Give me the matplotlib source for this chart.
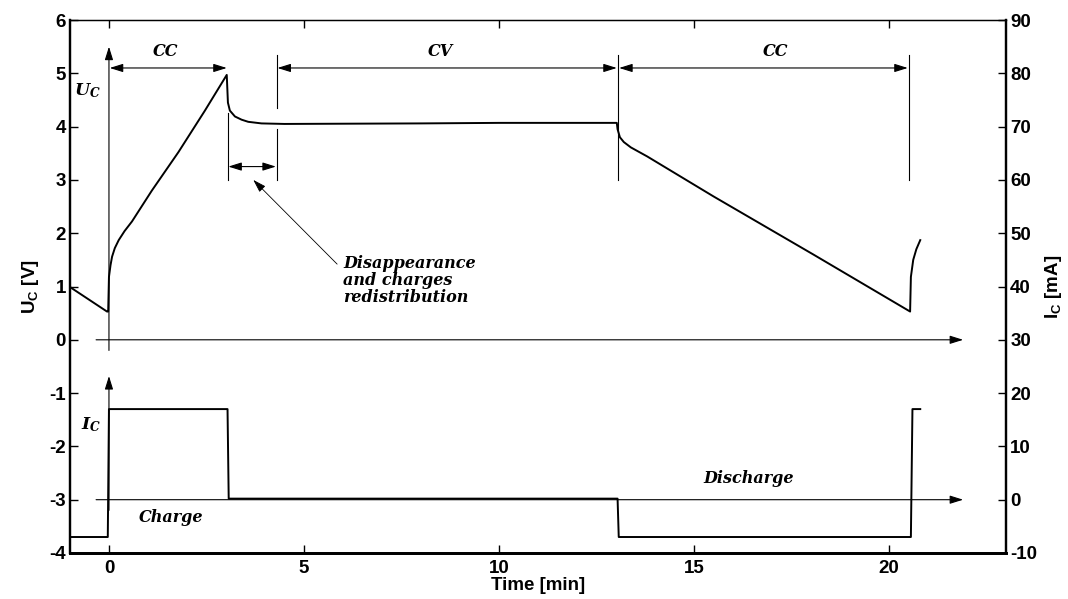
import matplotlib
matplotlib.use("Agg")
import matplotlib.pyplot as plt

# --- data ---
# capacitor voltage U_C [V] (left axis)
u_time = [-1.0, -0.05, -0.02, 0.0, 0.04, 0.08, 0.15, 0.25, 0.4, 0.59, 1.10, 1.78, 2.46, 3.02,
          3.05, 3.1, 3.23, 3.4, 3.57, 3.91, 4.5, 8.0, 10.0, 13.02, 13.04, 13.1, 13.2,
          13.38, 13.8, 15.5, 18.06, 20.54, 20.56, 20.62, 20.7, 20.8]
u_volt = [0.99, 0.53, 0.53, 1.18, 1.4, 1.56, 1.72, 1.87, 2.04, 2.22, 2.8, 3.52, 4.3, 4.97,
          4.45, 4.3, 4.19, 4.13, 4.09, 4.06, 4.05, 4.06, 4.07, 4.07, 3.95, 3.8, 3.71,
          3.61, 3.44, 2.69, 1.6, 0.53, 1.18, 1.5, 1.7, 1.87]

# capacitor current I_C [mA] (right axis)
i_time = [-1.0, -0.03, 0.0, 3.04, 3.07, 13.04, 13.07, 20.56, 20.6, 20.8]
i_ma = [-7.0, -7.0, 17.0, 17.0, 0.2, 0.2, -7.0, -7.0, 17.0, 17.0]

x_ticks = [0, 5, 10, 15, 20]
u_ticks = list(range(-4, 7))
i_ticks = list(range(-10, 91, 10))

plt.rcParams['font.family'] = ['Liberation Sans', 'DejaVu Sans']
plt.rcParams['font.weight'] = 'bold'
plt.rcParams['axes.unicode_minus'] = False
plt.rcParams['mathtext.fontset'] = 'custom'
plt.rcParams['mathtext.rm'] = 'Liberation Sans:bold'
plt.rcParams['mathtext.bf'] = 'Liberation Sans:bold'
plt.rcParams['mathtext.it'] = 'DejaVu Serif:italic:bold'

fig = plt.figure(figsize=(10.68, 5.99), dpi=100)
ax = fig.add_axes([0.0655, 0.0768, 0.8765, 0.8898])
ax2 = ax.twinx()

ax.plot(u_time, u_volt, color='black', lw=1.4)
ax2.plot(i_time, i_ma, color='black', lw=1.4)

ax.set_xlim(-1, 23)
ax.set_ylim(-4, 6)
ax2.set_ylim(-10, 90)
ax.set_xticks(x_ticks)
ax.set_yticks(u_ticks)
ax2.set_yticks(i_ticks)

ax.xaxis.set_ticks_position('both')
ax.tick_params(axis='both', direction='in', length=6, width=1, labelsize=13.5, pad=3)
ax.tick_params(axis='x', pad=5)
ax2.tick_params(axis='y', direction='in', length=6, width=1, labelsize=13.5, pad=3)

for a in (ax, ax2):
    a.spines['left'].set_linewidth(1.6)
    a.spines['right'].set_linewidth(1.6)
    a.spines['bottom'].set_linewidth(2.0)
    a.spines['top'].set_linewidth(0.9)

ax.set_xlabel('Time [min]', fontsize=13.5, fontweight='bold', labelpad=0)
ax.set_ylabel(r'U$_\mathrm{C}$ [V]', fontsize=13.5, fontweight='bold', labelpad=6)
ax2.set_ylabel(r'I$_\mathrm{C}$ [mA]', fontsize=13.5, fontweight='bold', labelpad=4)

# --- annotations (left axis coordinates) ---
thin = dict(color='black', lw=0.8)
one_head = dict(arrowstyle='-|>,head_length=0.8,head_width=0.25', color='black',
                lw=0.8, shrinkA=0, shrinkB=0)
two_head = dict(arrowstyle='<|-|>,head_length=0.8,head_width=0.25', color='black',
                lw=0.8, shrinkA=0, shrinkB=0)

# axis arrows
ax.annotate('', xy=(0, 5.5), xytext=(0, -0.2), arrowprops=one_head)
ax.annotate('', xy=(21.9, 0), xytext=(-0.33, 0), arrowprops=one_head)
ax.annotate('', xy=(0, -0.68), xytext=(0, -3.2), arrowprops=one_head)
ax.annotate('', xy=(21.9, -3), xytext=(-0.33, -3), arrowprops=one_head)

# phase boundaries
ax.plot([3.04, 3.04], [3.0, 4.25], **thin)
ax.plot([4.3, 4.3], [3.95, 3.0], **thin)
ax.plot([4.3, 4.3], [4.35, 5.35], **thin)
ax.plot([13.05, 13.05], [3.0, 5.35], **thin)
ax.plot([20.5, 20.5], [3.0, 5.35], **thin)

ax.annotate('', xy=(3.02, 5.1), xytext=(0.02, 5.1), arrowprops=two_head)
ax.annotate('', xy=(13.02, 5.1), xytext=(4.32, 5.1), arrowprops=two_head)
ax.annotate('', xy=(20.48, 5.1), xytext=(13.08, 5.1), arrowprops=two_head)
ax.annotate('', xy=(4.28, 3.25), xytext=(3.06, 3.25), arrowprops=two_head)

txt = dict(family='DejaVu Serif', style='italic', fontweight='bold', fontsize=11.5)
ax.text(1.45, 5.4, 'CC', ha='center', va='center', **txt)
ax.text(8.5, 5.4, 'CV', ha='center', va='center', **txt)
ax.text(17.1, 5.4, 'CC', ha='center', va='center', **txt)
ax.text(-0.55, 4.68, r'$\mathit{U_C}$', ha='center', va='center', fontsize=12.5)
ax.text(-0.45, -1.6, r'$\mathit{I_C}$', ha='center', va='center', fontsize=12.5)
ax.text(1.6, -3.33, 'Charge', ha='center', va='center', **txt)
ax.text(16.4, -2.6, 'Discharge', ha='center', va='center', **txt)

ax.annotate('', xy=(3.7, 3.0), xytext=(5.85, 1.42),
            arrowprops=dict(arrowstyle='-|>,head_length=0.8,head_width=0.25',
                            color='black', lw=0.6, shrinkA=0, shrinkB=0))
ax.text(6.0, 1.6, 'Disappearance\nand charges\nredistribution', ha='left', va='top',
        linespacing=1.0, **txt)

fig.savefig('out.png', dpi=100)
